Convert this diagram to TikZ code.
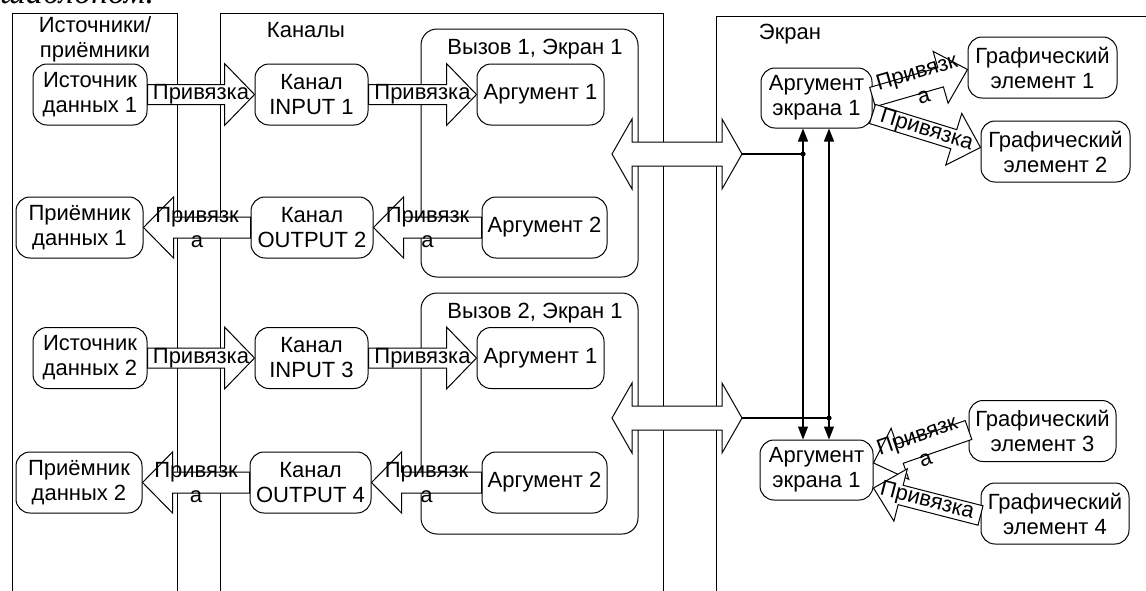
\documentclass[tikz,border=0pt]{standalone}
\usepackage{fontspec}
\setmainfont{Liberation Sans}
\newfontfamily\serifit{Liberation Serif}
\usetikzlibrary{calc,arrows.meta}
\newcommand\dfont{\fontsize{22}{25}\selectfont}
% block arrow: start, tip, shaft half width, head half width, head length
\newcommand\blockarr[5]{%
  \coordinate (hb) at ($(#2)!#5!(#1)$);
  \draw[arr] ($(#1)!#3!90:(#2)$) -- ($(hb)!#3!90:(#2)$) -- ($(hb)!#4!90:(#2)$) -- (#2)
    -- ($(hb)!#4!-90:(#2)$) -- ($(hb)!#3!-90:(#2)$) -- ($(#1)!#3!-90:(#2)$) -- cycle;}
% double arrow: left tip, right tip
\newcommand\dblarr[2]{%
  \draw[arr] (#1) -- ($(#1)+(20,-35)$) -- ($(#1)+(20,-12)$) -- ($(#2)+(-20,-12)$) -- ($(#2)+(-20,-35)$)
    -- (#2) -- ($(#2)+(-20,35)$) -- ($(#2)+(-20,12)$) -- ($(#1)+(20,12)$) -- ($(#1)+(20,35)$) -- cycle;}
\begin{document}
\begin{tikzpicture}[x=1pt,y=-1pt,
  lw/.style={line width=1pt},
  frame/.style={draw, lw},
  grp/.style={draw, lw, rounded corners=16pt},
  box/.style={draw, lw, rounded corners=14pt, fill=white, align=center, inner sep=0pt,
              minimum height=61pt, font=\dfont},
  arr/.style={draw, lw, fill=white, line join=miter},
  lbl/.style={font=\dfont, align=center, inner sep=0pt},
  hdr/.style={font=\dfont, anchor=base, inner sep=0pt},
  conn/.style={draw, line width=1.3pt}
  ]
\useasboundingbox (0,0) rectangle (1146,590);
% cut-off text at the top
\node[anchor=base west, inner sep=0pt, font=\serifit\itshape\fontsize{34}{40}\selectfont] (cut) at (0,3.5) {шаблоном.};
% frames
\draw[frame] (12,592) -- (12,13) -- (177,13) -- (177,592);
\draw[frame] (220,592) -- (220,13) -- (663,13) -- (663,592);
\draw[frame] (716,592) -- (716,16) -- (1150,16);
\node[hdr, align=center] (h1) at (95,57) {Источники/\\приёмники};
\node[hdr] (h2) at (306,37) {Каналы};
\node[hdr] (h3) at (790,39) {Экран};
% groups
\draw[grp] (421,29) rectangle (638,277);
\draw[grp] (421,293) rectangle (638,534);
\node[hdr] (gl1) at (535,54) {Вызов 1, Экран 1};
\node[hdr] (gl2) at (535,318) {Вызов 2, Экран 1};
% nodes
\node[box, minimum width=114pt] (src1) at (90,94.5) {Источник\\данных 1};
\node[box, minimum width=113pt] (ch1) at (311.5,94.5) {Канал\\INPUT 1};
\node[box, minimum width=127pt] (a11) at (540.5,94.5) {Аргумент 1};
\node[box, minimum width=127pt] (rcv1) at (79.5,227.5) {Приёмник\\данных 1};
\node[box, minimum width=122pt] (ch2) at (312,227.5) {Канал\\OUTPUT 2};
\node[box, minimum width=125pt] (a12) at (544.5,227.5) {Аргумент 2};
\node[box, minimum width=114pt] (src2) at (90,358) {Источник\\данных 2};
\node[box, minimum width=113pt] (ch3) at (311.5,358) {Канал\\INPUT 3};
\node[box, minimum width=127pt] (a21) at (540.5,358) {Аргумент 1};
\node[box, minimum width=126pt] (rcv2) at (79,482.5) {Приёмник\\данных 2};
\node[box, minimum width=121pt] (ch4) at (310.5,482.5) {Канал\\OUTPUT 4};
\node[box, minimum width=125pt] (a22) at (544.5,482.5) {Аргумент 2};
\node[box, minimum width=111pt, minimum height=60pt] (ae1) at (816.5,98) {Аргумент\\экрана 1};
\node[box, minimum width=113pt, minimum height=60pt] (ae2) at (816.5,470) {Аргумент\\экрана 1};
\node[box, minimum width=149pt] (g1) at (1042.5,67.5) {Графический\\элемент 1};
\node[box, minimum width=149pt] (g2) at (1055.5,151.5) {Графический\\элемент 2};
\node[box, minimum width=147pt] (g3) at (1042.5,431) {Графический\\элемент 3};
\node[box, minimum width=148pt] (g4) at (1055,513.5) {Графический\\элемент 4};
% double arrows
\coordinate (d1l) at (612,154); \coordinate (d1r) at (742,154);
\coordinate (d2l) at (612,418); \coordinate (d2r) at (742,418);
\dblarr{d1l}{d1r}
\dblarr{d2l}{d2r}
% horizontal block arrows
\blockarr{src1.east}{ch1.west}{10pt}{31pt}{30pt}
\blockarr{ch1.east}{a11.west}{10pt}{31pt}{30pt}
\blockarr{ch2.west}{rcv1.east}{10.5pt}{30.5pt}{30pt}
\blockarr{a12.west}{ch2.east}{10.5pt}{30.5pt}{30pt}
\blockarr{src2.east}{ch3.west}{10pt}{31pt}{30pt}
\blockarr{ch3.east}{a21.west}{10pt}{31pt}{30pt}
\blockarr{ch4.west}{rcv2.east}{10.5pt}{30.5pt}{30pt}
\blockarr{a22.west}{ch4.east}{10.5pt}{30.5pt}{30pt}
\path (src1.east) -- (ch1.west) node[midway, lbl] {Привязка};
\path (ch1.east) -- (a11.west) node[midway, lbl] {Привязка};
\path (ch2.west) -- (rcv1.east) node[midway, lbl] {Привязк\\а};
\path (a12.west) -- (ch2.east) node[midway, lbl] {Привязк\\а};
\path (src2.east) -- (ch3.west) node[midway, lbl] {Привязка};
\path (ch3.east) -- (a21.west) node[midway, lbl] {Привязка};
\path (ch4.west) -- (rcv2.east) node[midway, lbl] {Привязк\\а};
\path (a22.west) -- (ch4.east) node[midway, lbl] {Привязк\\а};
% slanted block arrows
\coordinate (s1) at ($(ae1.east)+(0,-1)$);
\coordinate (t1) at ($(g1.west)+(0,2)$);
\coordinate (s2) at ($(ae1.east)+(0,16)$);
\coordinate (t2) at ($(g2.west)+(0,-4)$);
\coordinate (s3) at ($(g3.west)+(0,-1)$);
\coordinate (t3) at ($(ae2.east)+(0,-7)$);
\coordinate (s4) at ($(g4.west)+(0,2)$);
\coordinate (t4) at ($(ae2.east)+(0,18)$);
\blockarr{s1}{t1}{10pt}{27pt}{28pt}
\blockarr{s2}{t2}{10pt}{27pt}{28pt}
\blockarr{s3}{t3}{10pt}{27pt}{28pt}
\blockarr{s4}{t4}{10pt}{27pt}{28pt}
\path (s1) -- (t1) node[midway, sloped, lbl] {Привязк\\а};
\path (s2) -- (t2) node[midway, sloped, lbl] {Привязка};
\path (s3) -- (t3) node[midway, sloped, lbl] {Привязк\\а};
\path (s4) -- (t4) node[midway, sloped, lbl] {Привязка};
% connectors from the double arrows to the screen arguments
\coordinate (v1t) at ($(ae1.south)+(-13.5,0)$);
\coordinate (v1b) at ($(ae2.north)+(-13.5,0)$);
\coordinate (v2t) at ($(ae1.south)+(12.5,0)$);
\coordinate (v2b) at ($(ae2.north)+(12.5,0)$);
\draw[conn, {Triangle[length=13pt,width=10pt]}-{Triangle[length=13pt,width=10pt]}] (v1t) -- (v1b);
\draw[conn, {Triangle[length=13pt,width=10pt]}-{Triangle[length=13pt,width=10pt]}] (v2t) -- (v2b);
\coordinate (j1) at (v1t |- d1r);
\coordinate (j2) at (v2t |- d2r);
\draw[conn] (d1r) -- (j1);
\draw[conn] (d2r) -- (j2);
\fill (j1) circle (2.6pt);
\fill (j2) circle (2.6pt);
\end{tikzpicture}
\end{document}
